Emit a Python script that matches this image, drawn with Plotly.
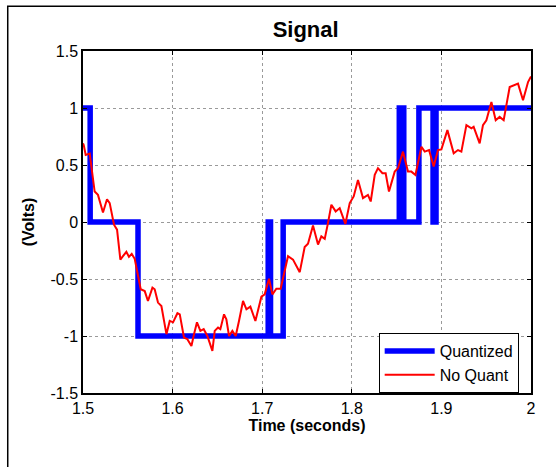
import plotly.graph_objects as go

# No Quant (red) signal samples
t_raw = [1.5, 1.5008, 1.503, 1.5075, 1.513, 1.5167, 1.5223, 1.5268, 1.5298, 1.5346, 1.538,
         1.5417, 1.5446, 1.5484, 1.5513, 1.5544, 1.5577, 1.5614, 1.5644, 1.5689, 1.5725,
         1.5775, 1.58, 1.5837, 1.5875, 1.5931, 1.5968, 1.6005, 1.6054, 1.608, 1.6127,
         1.6165, 1.621, 1.6239, 1.6272, 1.631, 1.6347, 1.6388, 1.6444, 1.647, 1.6507,
         1.6533, 1.6574, 1.66, 1.663, 1.6667, 1.6704, 1.6741, 1.6786, 1.6824, 1.6868,
         1.6924, 1.6991, 1.7028, 1.7076, 1.7114, 1.7158, 1.7206, 1.724, 1.7288, 1.7344,
         1.7419, 1.7474, 1.7511, 1.7567, 1.7623, 1.766, 1.7698, 1.7734, 1.7772, 1.782,
         1.7865, 1.7928, 1.7977, 1.8021, 1.8069, 1.8125, 1.818, 1.8211, 1.8256, 1.8292,
         1.8342, 1.8378, 1.8415, 1.8479, 1.8516, 1.8571, 1.8627, 1.8665, 1.871, 1.8777,
         1.8814, 1.8862, 1.8914, 1.8962, 1.9, 1.9067, 1.9137, 1.9185, 1.9223, 1.9279,
         1.9335, 1.936, 1.9427, 1.9464, 1.9502, 1.9558, 1.9606, 1.965, 1.9695, 1.9762,
         1.9818, 1.9855, 1.9911, 1.9967, 2.0]
v_raw = [0.69, 0.675, 0.588, 0.60, 0.267, 0.238, 0.084, 0.20, 0.166, -0.024, -0.067,
         -0.33, -0.30, -0.262, -0.306, -0.28, -0.323, -0.49, -0.59, -0.606, -0.693,
         -0.576, -0.59, -0.707, -0.737, -0.984, -0.868, -0.88, -0.80, -0.81, -1.013,
         -1.028, -1.087, -0.984, -0.88, -0.955, -0.94, -1.0, -1.13, -0.955, -0.926,
         -0.94, -0.81, -0.853, -1.0, -0.955, -1.0, -0.868, -0.693, -0.766, -0.742,
         -0.868, -0.655, -0.635, -0.498, -0.635, -0.585, -0.585, -0.475, -0.30, -0.33,
         -0.44, -0.22, -0.19, -0.03, -0.198, -0.126, -0.148, -0.01, 0.151, 0.093,
         0.122, -0.017, 0.166, 0.224, 0.369, 0.21, 0.238, 0.18, 0.413, 0.472,
         0.428, 0.428, 0.267, 0.442, 0.472, 0.617, 0.442, 0.442, 0.413, 0.66,
         0.617, 0.631, 0.486, 0.631, 0.637, 0.806, 0.603, 0.631, 0.617, 0.85,
         0.821, 0.835, 0.69, 0.85, 0.893, 1.053, 0.893, 0.922, 0.893, 1.184,
         1.199, 1.214, 1.068, 1.228, 1.277]

# Quantized (blue) step signal: value holds from each time until the next
t_q = [1.5, 1.508, 1.5614, 1.7067, 1.7093, 1.7234, 1.853, 1.858, 1.8749, 1.8907, 1.8940, 2.0]
v_q = [1, 0, -1, 0, -1, 0, 1, 0, 1, 0, 1, 1]

x_ticks = [1.5, 1.6, 1.7, 1.8, 1.9, 2.0]
x_labels = ["1.5", "1.6", "1.7", "1.8", "1.9", "2"]
y_ticks = [-1.5, -1, -0.5, 0, 0.5, 1, 1.5]
y_labels = ["-1.5", "-1", "-0.5", "0", "0.5", "1", "1.5"]

FONT = "Liberation Sans, Arial, sans-serif"

fig = go.Figure()
fig.add_trace(go.Scatter(x=t_q, y=v_q, mode="lines", line_shape="hv",
                         line=dict(color="#0000FF", width=5.5), name="Quantized"))
fig.add_trace(go.Scatter(x=t_raw, y=v_raw, mode="lines",
                         line=dict(color="#FF0000", width=2), name="No Quant"))

axis_common = dict(showline=True, linecolor="black", linewidth=1.5, mirror="ticks",
                   ticks="inside", ticklen=4, tickcolor="black",
                   showgrid=True, gridcolor="#9a9a9a", gridwidth=1, griddash="dot",
                   zeroline=False, tickfont=dict(family=FONT, size=16, color="black"))

fig.update_xaxes(range=[1.5, 2.0], tickvals=x_ticks, ticktext=x_labels,
                 title=dict(text="<b>Time (seconds)</b>", font=dict(family=FONT, size=16, color="black"),
                            standoff=2),
                 **axis_common)
fig.update_yaxes(range=[-1.5, 1.5], tickvals=y_ticks, ticktext=y_labels,
                 title=dict(text="<b>(Volts)</b>", font=dict(family=FONT, size=16, color="black"),
                            standoff=12),
                 **axis_common)

fig.update_layout(
    width=556, height=467,
    margin=dict(l=83, r=25, t=51, b=74),
    paper_bgcolor="white", plot_bgcolor="white",
    title=dict(text="<b>Signal</b>", xref="paper", x=0.497, xanchor="center",
               yref="container", y=0.938, yanchor="middle",
               font=dict(family=FONT, size=22, color="black")),
    legend=dict(x=0.9725, xanchor="right", y=0, yanchor="bottom",
                bgcolor="white", bordercolor="black", borderwidth=1, itemwidth=50,
                font=dict(family=FONT, size=16, color="black")),
    showlegend=True,
    shapes=[dict(type="rect", xref="paper", yref="paper",
                 x0=-0.168, x1=1.3, y0=-0.4, y1=1.1305,
                 line=dict(color="black", width=1.5), layer="below")],
)

fig.write_html("out.html", config={"displayModeBar": False},
               post_script="document.body.style.margin='0px';document.body.style.overflow='hidden';")
